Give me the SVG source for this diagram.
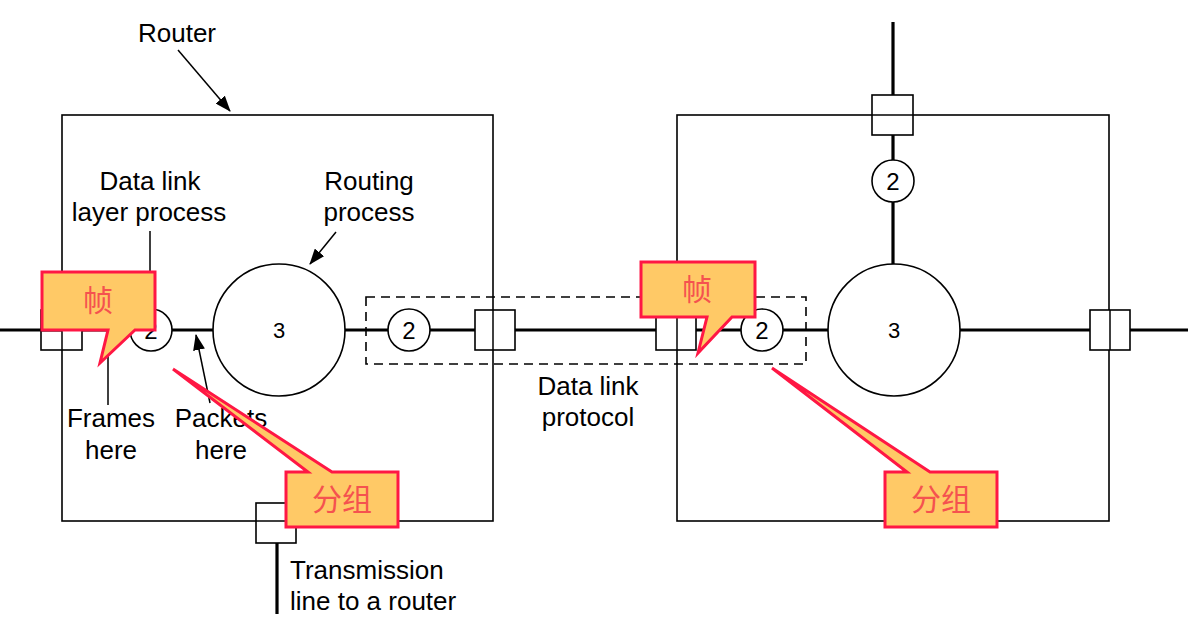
<svg xmlns="http://www.w3.org/2000/svg" width="1203" height="628" viewBox="0 0 1203 628">
<defs>
<style>
.t{font-family:"Liberation Sans",Arial,sans-serif;font-size:26px;fill:#000;text-anchor:middle}
.n{font-family:"Liberation Sans",Arial,sans-serif;font-size:24px;fill:#000;text-anchor:middle}
.box{fill:none;stroke:#000;stroke-width:1.6}
.port{fill:#fff;stroke:#000;stroke-width:1.6}
.circ{fill:#fff;stroke:#000;stroke-width:1.6}
.thick{stroke:#000;stroke-width:3.2;fill:none}
.thin{stroke:#000;stroke-width:1.5;fill:none}
.dash{fill:none;stroke:#000;stroke-width:1.6;stroke-dasharray:9 6}
.call{fill:#ffc966;stroke:#ff1744;stroke-width:3;stroke-linejoin:miter}
.ct{font-family:"Noto Sans CJK SC",sans-serif;font-size:30px;fill:#f5524f;text-anchor:middle}
</style>
<marker id="ah" markerUnits="userSpaceOnUse" markerWidth="16" markerHeight="12" refX="15" refY="6" orient="auto">
<path d="M0,0 L16,6 L0,12 Z" fill="#000"/>
</marker>
</defs>
<rect width="1203" height="628" fill="#fff"/>

<g id="connectors">
<line class="thick" x1="0" y1="330" x2="1188" y2="330"/>
<line class="thick" x1="893" y1="22" x2="893" y2="264"/>
<line class="thick" x1="277" y1="521" x2="277" y2="614"/>
<line class="thin" x1="150" y1="231" x2="150" y2="309"/>
<line class="thin" x1="108" y1="405" x2="108" y2="330"/>
<line class="thin" x1="178" y1="50" x2="230" y2="111" marker-end="url(#ah)"/>
<line class="thin" x1="336" y1="232" x2="310" y2="264" marker-end="url(#ah)"/>
<line class="thin" x1="210" y1="403" x2="196" y2="335" marker-end="url(#ah)"/>
</g>

<g id="router-left">
<rect class="box" x="62" y="115" width="431" height="406"/>
</g>
<g id="router-right">
<rect class="box" x="677" y="115" width="432" height="406"/>
</g>

<g id="data-link-box">
<rect class="dash" x="366" y="297" width="440" height="67"/>
</g>

<g id="port-left-1">
<rect class="port" x="41" y="310" width="41" height="40"/>
<line class="thin" x1="62" y1="310" x2="62" y2="350"/>
<line class="thick" x1="41" y1="330" x2="62" y2="330"/>
</g>
<g id="port-left-2">
<rect class="port" x="475" y="310" width="40" height="40"/>
<line class="thin" x1="493" y1="310" x2="493" y2="350"/>
</g>
<g id="port-left-bottom">
<rect class="port" x="256" y="503" width="40" height="40"/>
<line class="thin" x1="256" y1="521" x2="296" y2="521"/>
</g>
<g id="port-right-1">
<rect class="port" x="656" y="310" width="40" height="40"/>
<line class="thin" x1="677" y1="310" x2="677" y2="350"/>
</g>
<g id="port-right-top">
<rect class="port" x="872" y="95" width="41" height="40"/>
<line class="thin" x1="872" y1="115" x2="913" y2="115"/>
</g>
<g id="port-right-2">
<rect class="port" x="1090" y="310" width="40" height="40"/>
<line class="thin" x1="1110" y1="310" x2="1110" y2="350"/>
</g>

<g id="dl-left-1">
<circle class="circ" cx="151" cy="330" r="21"/>
<text class="n" x="151" y="339">2</text>
</g>
<g id="routing-left">
<circle class="circ" cx="279" cy="330" r="66"/>
<text class="n" x="279" y="338" style="font-size:22px">3</text>
</g>
<g id="dl-left-2">
<circle class="circ" cx="409" cy="330" r="21"/>
<text class="n" x="409" y="339">2</text>
</g>
<g id="dl-right-1">
<circle class="circ" cx="762" cy="330" r="21"/>
<text class="n" x="762" y="339">2</text>
</g>
<g id="routing-right">
<circle class="circ" cx="894" cy="330" r="66"/>
<text class="n" x="894" y="338" style="font-size:22px">3</text>
</g>
<g id="dl-right-top">
<circle class="circ" cx="893" cy="181" r="21"/>
<text class="n" x="893" y="190">2</text>
</g>

<g id="labels">
<text class="t" x="177" y="42">Router</text>
<text class="t" x="150" y="190">Data link</text>
<text class="t" x="149" y="221">layer process</text>
<text class="t" x="369" y="190">Routing</text>
<text class="t" x="369" y="221">process</text>
<text class="t" x="111" y="427">Frames</text>
<text class="t" x="111" y="459">here</text>
<text class="t" x="221" y="427">Packets</text>
<text class="t" x="221" y="459">here</text>
<text class="t" x="588" y="395">Data link</text>
<text class="t" x="588" y="426">protocol</text>
<text class="t" x="290" y="579" style="text-anchor:start">Transmission</text>
<text class="t" x="290" y="610" style="text-anchor:start">line to a router</text>
</g>

<g id="callout-frame-left">
<path class="call" d="M42,272 L155,272 L155,330 L135,330 L100,363 L108,330 L42,330 Z"/>
<text class="ct" x="98" y="311">帧</text>
</g>
<g id="callout-frame-right">
<path class="call" d="M641,262 L755,262 L755,317 L732,317 L698,353 L707,317 L641,317 Z"/>
<text class="ct" x="697" y="300">帧</text>
</g>
<g id="callout-packet-left">
<path class="call" d="M286,472 L308,472 L173,369 L332,472 L398,472 L398,527 L286,527 Z"/>
<text class="ct" x="342" y="510">分组</text>
</g>
<g id="callout-packet-right">
<path class="call" d="M885,472 L907,472 L772,368 L930,472 L997,472 L997,527 L885,527 Z"/>
<text class="ct" x="941" y="510">分组</text>
</g>
</svg>
